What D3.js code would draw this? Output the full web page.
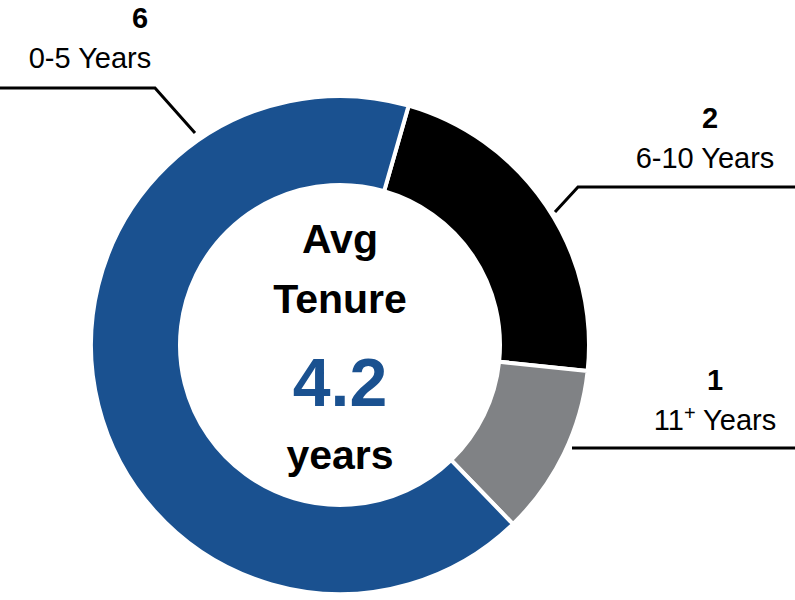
<!DOCTYPE html>
<html><head><meta charset="utf-8">
<script src="https://cdn.jsdelivr.net/npm/d3@7"></script>
<style>body{margin:0;background:#fff}text{font-family:"Liberation Sans",Arial,sans-serif}</style>
</head><body><svg id="c" width="795" height="600"></svg>
<script>
var categories = ["0-5 Years", "6-10 Years", "11+ Years"];
var counts = [6, 2, 1];
var colors = ["#1a5190", "#000000", "#808285"];
var avgTenure = "4.2";

var svg = d3.select("#c");
var cx = 340, cy = 345;
var g = svg.append("g").attr("transform", "translate(" + cx + "," + cy + ")");

// blue slice starts after the black and grey slices
var start = 16 * Math.PI / 180;
var order = [1, 2, 0];
var pie = d3.pie().sort(null).value(function(i){ return counts[i]; })
  .startAngle(start).endAngle(start + 2 * Math.PI);
var arc = d3.arc().innerRadius(160).outerRadius(249);

g.selectAll("path").data(pie(order)).join("path")
  .attr("d", arc)
  .attr("fill", function(d){ return colors[d.data]; })
  .attr("stroke", "#fff").attr("stroke-width", 4);

// callout labels
var labels = [
  {i:0, num:[140,28], cat:[90,68], line:[[0,88],[155,88],[195,133]], anchor:"middle"},
  {i:1, num:[710,128], cat:[705,168], line:[[795,187],[578,187],[555,212]], anchor:"middle"},
  {i:2, num:[715,390], cat:[715,430], line:[[795,448],[572,448]], anchor:"middle"}
];
labels.forEach(function(l){
  svg.append("path").attr("d", d3.line()(l.line))
    .attr("fill","none").attr("stroke","#000").attr("stroke-width",3);
  svg.append("text").attr("x", l.num[0]).attr("y", l.num[1]).attr("text-anchor", l.anchor)
    .attr("font-size", 29).attr("font-weight","bold").text(counts[l.i]);
  var t = svg.append("text").attr("x", l.cat[0]).attr("y", l.cat[1]).attr("text-anchor", l.anchor)
    .attr("font-size", 29);
  var c = categories[l.i];
  if (c.indexOf("+") > 0) {
    var parts = c.split("+");
    t.append("tspan").text(parts[0]);
    t.append("tspan").attr("dy", -10).attr("font-size", 20).text("+");
    t.append("tspan").attr("dy", 10).text(parts[1]);
  } else t.text(c);
});

// centre text
g.append("text").attr("y",-92).attr("text-anchor","middle").attr("font-size",41).attr("font-weight","bold").text("Avg");
g.append("text").attr("y",-32).attr("text-anchor","middle").attr("font-size",41).attr("font-weight","bold").text("Tenure");
g.append("text").attr("y",61).attr("text-anchor","middle").attr("font-size",68).attr("font-weight","bold").attr("fill",colors[0]).text(avgTenure);
g.append("text").attr("y",124).attr("text-anchor","middle").attr("font-size",41).attr("font-weight","bold").text("years");
</script></body></html>
